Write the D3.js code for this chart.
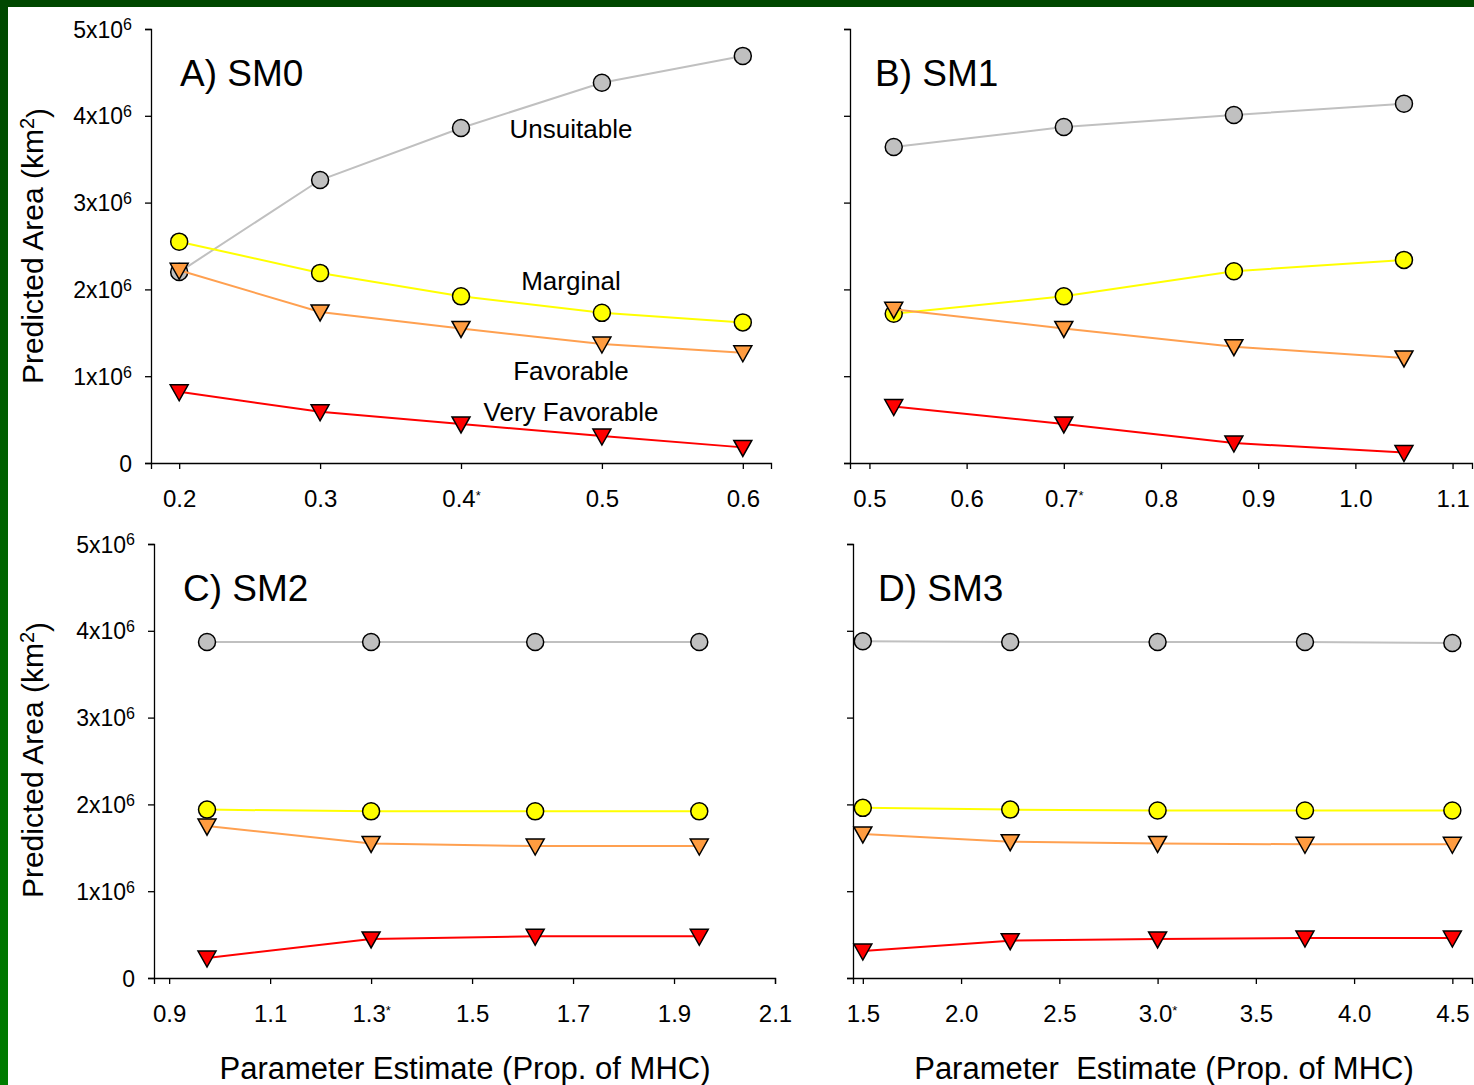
<!DOCTYPE html>
<html lang="en">
<head>
<meta charset="UTF-8"/>
<title>Predicted area by parameter estimate</title>
<script src="https://d3js.org/d3.v7.min.js" charset="utf-8"></script>
<style type="text/css">
    body { margin: 0; background: #fff; }
    text { font-family: "Liberation Sans", Arial, sans-serif; fill: #000; }
    .axis path, .axis line { fill: none; stroke: #000; stroke-width: 1.3px; }
    .axis text { font-size: 24px; }
</style>
</head>
<body>
<div id="chart"></div>
<script type="text/javascript">

// panel A) SM0
var paramsSM0 = [0.2, 0.3, 0.4, 0.5, 0.6];
var unsuitableSM0 = [2.20e6, 3.26e6, 3.86e6, 4.38e6, 4.69e6];
var marginalSM0 = [2.55e6, 2.19e6, 1.92e6, 1.73e6, 1.62e6];
var favorableSM0 = [2.22e6, 1.74e6, 1.55e6, 1.37e6, 1.27e6];
var veryFavorableSM0 = [0.82e6, 0.59e6, 0.45e6, 0.31e6, 0.18e6];

// panel B) SM1
var paramsSM1 = [0.525, 0.7, 0.875, 1.05];
var unsuitableSM1 = [3.64e6, 3.87e6, 4.01e6, 4.14e6];
var marginalSM1 = [1.72e6, 1.92e6, 2.21e6, 2.34e6];
var favorableSM1 = [1.77e6, 1.55e6, 1.34e6, 1.21e6];
var veryFavorableSM1 = [0.65e6, 0.45e6, 0.23e6, 0.12e6];

// panel C) SM2
var paramsSM2 = [0.975, 1.3, 1.625, 1.95];
var unsuitableSM2 = [3.87e6, 3.87e6, 3.87e6, 3.87e6];
var marginalSM2 = [1.94e6, 1.92e6, 1.92e6, 1.92e6];
var favorableSM2 = [1.75e6, 1.55e6, 1.52e6, 1.52e6];
var veryFavorableSM2 = [0.23e6, 0.45e6, 0.48e6, 0.48e6];

// panel D) SM3
var paramsSM3 = [1.5, 2.25, 3.0, 3.75, 4.5];
var unsuitableSM3 = [3.88e6, 3.87e6, 3.87e6, 3.87e6, 3.86e6];
var marginalSM3 = [1.96e6, 1.94e6, 1.93e6, 1.93e6, 1.93e6];
var favorableSM3 = [1.66e6, 1.57e6, 1.55e6, 1.54e6, 1.54e6];
var veryFavorableSM3 = [0.31e6, 0.43e6, 0.45e6, 0.46e6, 0.46e6];

// tick labels
var xTicksSM0 = [0.2, 0.3, 0.4, 0.5, 0.6];
var xTicksSM1 = [0.5, 0.6, 0.7, 0.8, 0.9, 1.0, 1.1];
var xTicksSM2 = [0.9, 1.1, 1.3, 1.5, 1.7, 1.9, 2.1];
var xTicksSM3 = [1.5, 2.0, 2.5, 3.0, 3.5, 4.0, 4.5];
var yTicks = [0, 1e6, 2e6, 3e6, 4e6, 5e6];
var seriesNames = ["Unsuitable", "Marginal", "Favorable", "Very Favorable"];

var W = 1474, H = 1085;

var svg = d3.select("#chart")
    .append("svg")
    .attr("width", W)
    .attr("height", H);

// green frame
var grad = svg.append("defs").append("linearGradient")
    .attr("id", "sideGrad")
    .attr("x1", 0).attr("y1", 0).attr("x2", 0).attr("y2", 1);
grad.append("stop").attr("offset", "0%").attr("stop-color", "#004800");
grad.append("stop").attr("offset", "50%").attr("stop-color", "#006400");
grad.append("stop").attr("offset", "100%").attr("stop-color", "#007c00");
svg.append("rect").attr("x", 0).attr("y", 0).attr("width", 8).attr("height", H)
    .attr("fill", "url(#sideGrad)");
svg.append("rect").attr("x", 0).attr("y", 0).attr("width", W).attr("height", 7)
    .attr("fill", "#004800");

var styles = [
    {line: "#c0c0c0", fill: "#c0c0c0", shape: "circle"},
    {line: "#ffff00", fill: "#ffff00", shape: "circle"},
    {line: "#ffa050", fill: "#ff9c40", shape: "tri"},
    {line: "#ff0000", fill: "#ff0000", shape: "tri"}
];

var panels = [
    {title: "A) SM0", params: paramsSM0, series: [unsuitableSM0, marginalSM0, favorableSM0, veryFavorableSM0],
     ticks: xTicksSM0, star: 0.4, xDomain: [0.18, 0.62], xRange: [151, 771], yRange: [463, 29], yLabels: true},
    {title: "B) SM1", params: paramsSM1, series: [unsuitableSM1, marginalSM1, favorableSM1, veryFavorableSM1],
     ticks: xTicksSM1, star: 0.7, xDomain: [0.48, 1.12], xRange: [850, 1472], yRange: [463, 29], yLabels: false},
    {title: "C) SM2", params: paramsSM2, series: [unsuitableSM2, marginalSM2, favorableSM2, veryFavorableSM2],
     ticks: xTicksSM2, star: 1.3, xDomain: [0.87, 2.1], xRange: [154, 775], yRange: [978, 544], yLabels: true},
    {title: "D) SM3", params: paramsSM3, series: [unsuitableSM3, marginalSM3, favorableSM3, veryFavorableSM3],
     ticks: xTicksSM3, star: 3.0, xDomain: [1.45, 4.6], xRange: [853, 1472], yRange: [978, 544], yLabels: false}
];

panels.forEach(function(p, pi) {
    var x = d3.scaleLinear().domain(p.xDomain).range(p.xRange);
    var y = d3.scaleLinear().domain([0, 5e6]).range(p.yRange);
    var g = svg.append("g");

    // x axis
    var xa = g.append("g")
        .attr("class", "axis")
        .attr("transform", "translate(0," + p.yRange[0] + ")")
        .call(d3.axisBottom(x).tickValues(p.ticks).tickSizeOuter(0)
            .tickSize(6).tickPadding(21).tickFormat(d3.format(".1f")));
    xa.selectAll(".tick text")
        .filter(function(d) { return Math.abs(d - p.star) < 1e-9; })
        .append("tspan")
        .attr("dy", "-0.55em")
        .style("font-size", "13px")
        .text("*");

    // y axis
    var ya = g.append("g")
        .attr("class", "axis")
        .attr("transform", "translate(" + p.xRange[0] + ",0)")
        .call(d3.axisLeft(y).tickValues(yTicks).tickSizeOuter(0)
            .tickSize(6).tickPadding(13).tickFormat(function() { return ""; }));
    if (p.yLabels) {
        ya.selectAll(".tick text").each(function(d) {
            var t = d3.select(this)
                .style("font-size", "23px")
                .attr("dy", "0.35em");
            if (d === 0) {
                t.text("0");
            } else {
                t.append("tspan").text((d / 1e6) + "x10");
                t.append("tspan").attr("dy", "-0.45em").style("font-size", "16px").text("6");
            }
        });
    }

    // series
    p.series.forEach(function(vals, si) {
        var st = styles[si];
        var pts = p.params.map(function(v, i) { return [v, vals[i]]; });
        g.append("path")
            .datum(pts)
            .attr("fill", "none")
            .attr("stroke", st.line)
            .attr("stroke-width", 2)
            .attr("d", d3.line()
                .x(function(d) { return x(d[0]); })
                .y(function(d) { return y(d[1]); }));
        if (st.shape === "circle") {
            g.selectAll(null)
                .data(pts)
                .enter()
                .append("circle")
                .attr("cx", function(d) { return x(d[0]); })
                .attr("cy", function(d) { return y(d[1]); })
                .attr("r", 8.5)
                .attr("fill", st.fill)
                .attr("stroke", "#000")
                .attr("stroke-width", 1.5);
        } else {
            g.selectAll(null)
                .data(pts)
                .enter()
                .append("path")
                .attr("transform", function(d) { return "translate(" + x(d[0]) + "," + y(d[1]) + ")"; })
                .attr("d", "M-9,-7L9,-7L0,9Z")
                .attr("fill", st.fill)
                .attr("stroke", "#000")
                .attr("stroke-width", 1.5);
        }
    });

    // panel title
    g.append("text")
        .attr("x", p.xRange[0] + (pi % 2 === 0 ? 29 : 25))
        .attr("y", p.yRange[1] + 57)
        .style("font-size", "37px")
        .text(p.title);
});

// series labels in panel A
var labelY = [138, 290, 380, 421];
svg.selectAll(".serieslabel")
    .data(seriesNames)
    .enter()
    .append("text")
    .attr("class", "serieslabel")
    .attr("x", 571)
    .attr("y", function(d, i) { return labelY[i]; })
    .attr("text-anchor", "middle")
    .style("font-size", "26px")
    .text(function(d) { return d; });

// y axis titles
[246, 760].forEach(function(cy) {
    var t = svg.append("text")
        .attr("transform", "translate(43," + cy + ") rotate(-90)")
        .attr("text-anchor", "middle")
        .style("font-size", "30px");
    t.append("tspan").text("Predicted Area (km");
    t.append("tspan").attr("dy", "-0.45em").style("font-size", "20px").text("2");
    t.append("tspan").attr("dy", "0.45em").text(")");
});

// x axis titles
svg.append("text")
    .attr("x", 465).attr("y", 1079)
    .attr("text-anchor", "middle")
    .style("font-size", "31px")
    .text("Parameter Estimate (Prop. of MHC)");
svg.append("text")
    .attr("x", 1164).attr("y", 1079)
    .attr("text-anchor", "middle")
    .style("font-size", "31px")
    .style("white-space", "pre")
    .text("Parameter  Estimate (Prop. of MHC)");

</script>
</body>
</html>
